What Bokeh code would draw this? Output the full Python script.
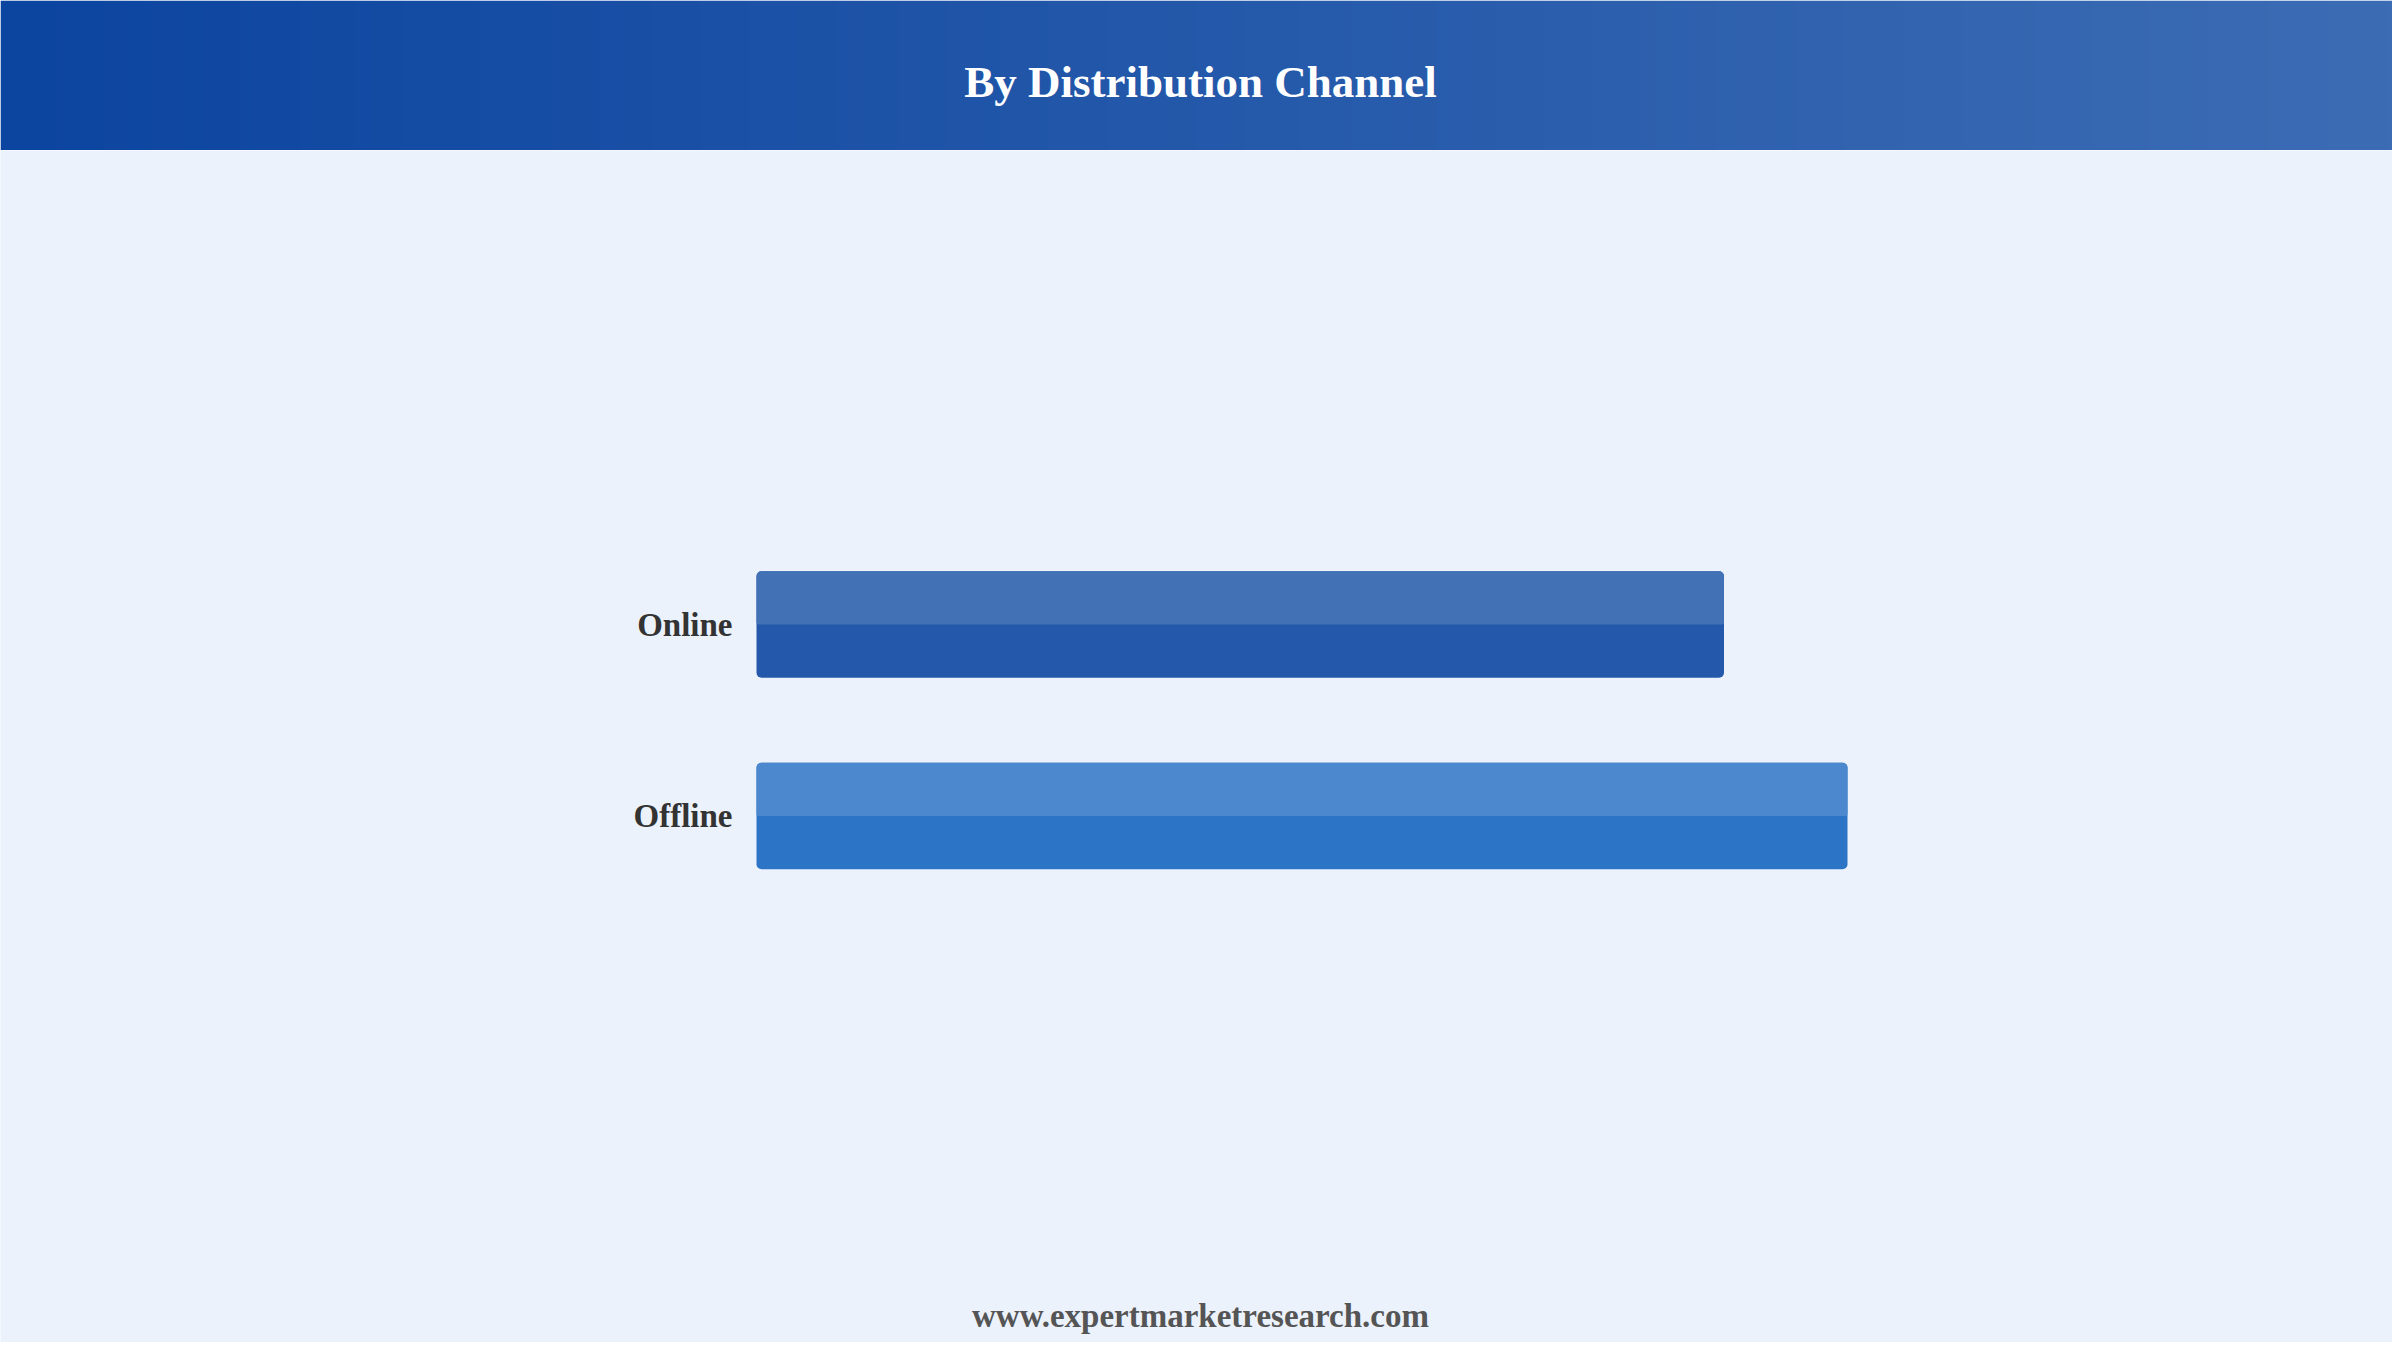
import numpy as np
from bokeh.plotting import figure
from bokeh.models import ColumnDataSource, Range1d
from bokeh.layouts import column
from bokeh.core.properties import value
from bokeh.embed import file_html
from bokeh.resources import INLINE

# ---- data ----
categories = ["Online", "Offline"]
shares = [47, 53]
top_colors = ["#4272B5", "#4C88CE"]
bottom_colors = ["#2358AA", "#2C74C6"]
title_text = "By Distribution Channel"
footer_text = "www.expertmarketresearch.com"

BG = "#EBF2FC"
W = 2392
HEAD_H = 150
CHART_H = 1342 - HEAD_H
SERIF = value("Liberation Serif")

# ---- header with gradient ----
head = figure(width=W, height=HEAD_H, output_backend="svg", toolbar_location=None,
              x_range=Range1d(0, 1), y_range=Range1d(0, 1), min_border=0,
              outline_line_color=None, background_fill_color=BG, border_fill_color=BG)
head.axis.visible = False
head.grid.visible = False
n = 400
t = np.linspace(0, 1, n)
c0 = np.array([12, 69, 160])
c1 = np.array([60, 108, 180])
cols = (c0[None, :] * (1 - t[:, None]) + c1[None, :] * t[:, None]).astype(np.uint32)
img = np.empty((1, n), dtype=np.uint32)
view = img.view(dtype=np.uint8).reshape((1, n, 4))
view[0, :, 0] = cols[:, 0]
view[0, :, 1] = cols[:, 1]
view[0, :, 2] = cols[:, 2]
view[0, :, 3] = 255
head.image_rgba(image=[img], x=0, y=0, dw=1, dh=1)
head.text(x=[1200 / W], y=[1 - 81 / HEAD_H], text=[title_text], text_align="center",
          text_baseline="middle", text_font=SERIF, text_font_style="bold",
          text_font_size="45px", text_color="white")

# ---- chart ----
px_per_unit = 1091 / 53
x0_px = 756
row_px = 191.5
online_px = 474
offline_px = 665.5
y_top = 1 + online_px / row_px
y_bot = 0 - (CHART_H - offline_px) / row_px

p = figure(width=W, height=CHART_H, output_backend="svg", toolbar_location=None,
           x_range=Range1d(-x0_px / px_per_unit, (W - x0_px) / px_per_unit),
           y_range=Range1d(y_bot, y_top), min_border=0,
           outline_line_color=None, background_fill_color=BG, border_fill_color=BG)
p.axis.visible = False
p.grid.visible = False

ypos = [len(categories) - 1 - i for i in range(len(categories))]
bar_h = 0.555
src = ColumnDataSource(dict(
    y=ypos, v=shares, cat=categories, top=top_colors, bottom=bottom_colors,
    ytop=[y + bar_h / 4 for y in ypos],
))
p.hbar(y="y", left=0, right="v", height=bar_h, source=src, fill_color="bottom",
       line_color=None, border_radius=5)
p.hbar(y="ytop", left=0, right="v", height=bar_h / 2, source=src, fill_color="top",
       line_color=None, border_radius=(5, 5, 2, 2))
p.text(x=0, y="y", text="cat", source=src, x_offset=-24, text_align="right",
       text_baseline="middle", text_font=SERIF, text_font_style="bold",
       text_font_size="33px", text_color="#333333")

xr = p.x_range
x_mid = xr.start + 1200 / px_per_unit
p.text(x=[x_mid], y=[y_top - 1165 / row_px], text=[footer_text],
       text_align="center", text_baseline="middle", text_font=SERIF,
       text_font_style="bold", text_font_size="33px", text_color="#555555")

layout = column(head, p, spacing=0)
open("out.html", "w").write(file_html(layout, INLINE))
